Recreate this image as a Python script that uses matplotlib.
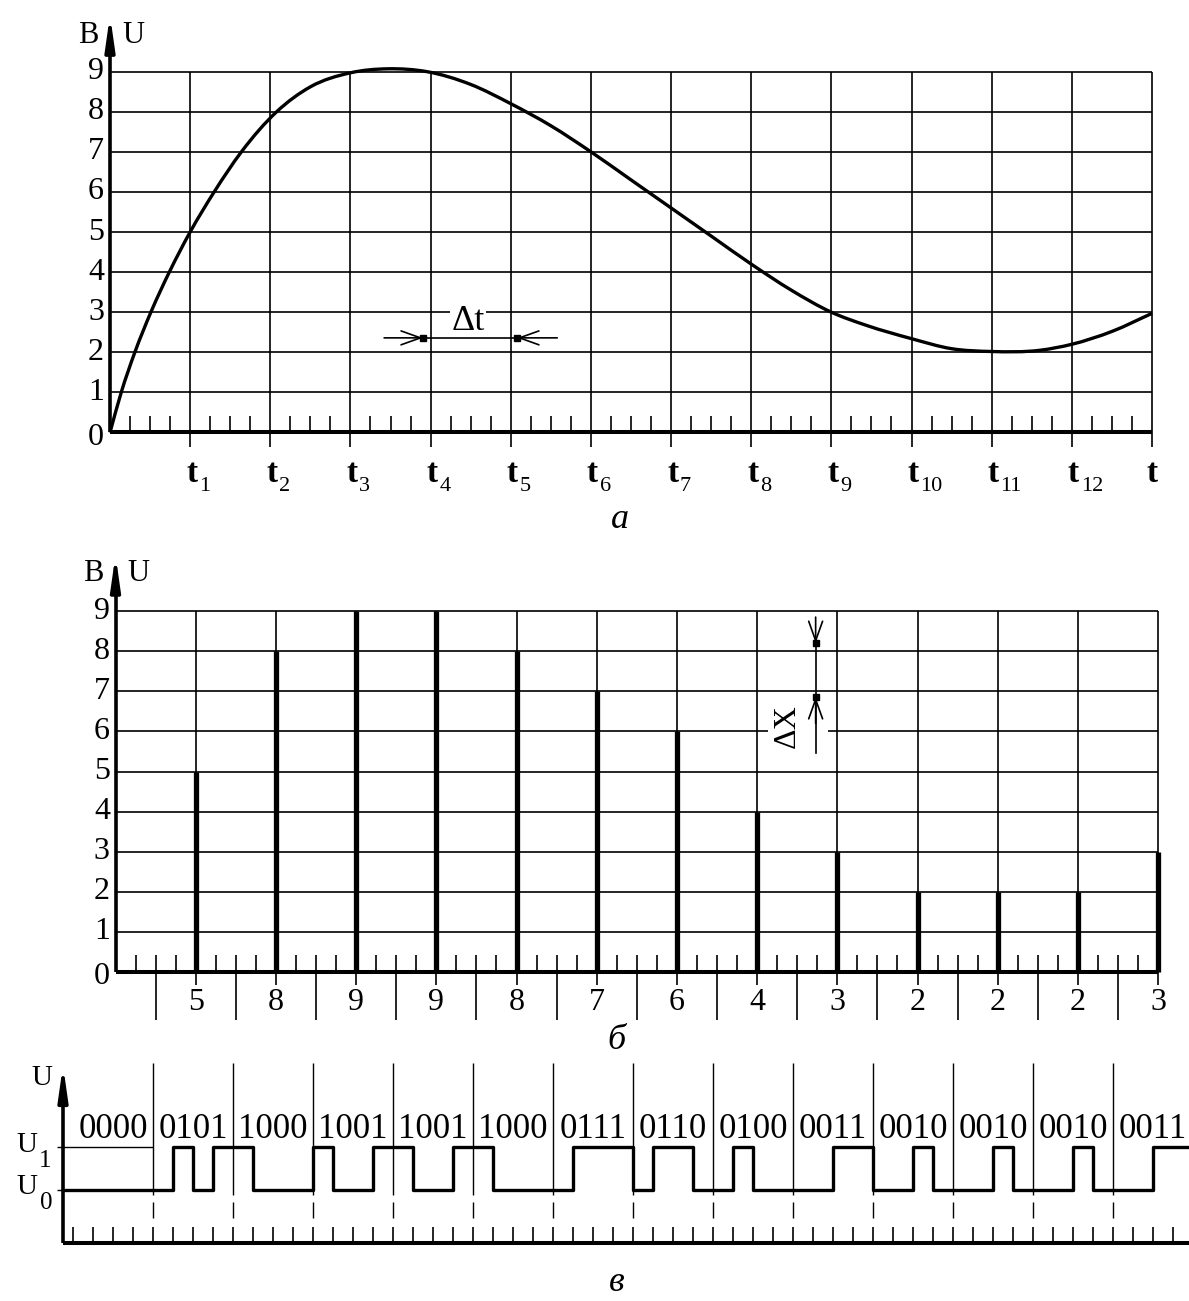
import matplotlib
matplotlib.use('Agg')
import matplotlib.pyplot as plt
from matplotlib.patches import Rectangle, PathPatch
from matplotlib.path import Path
import numpy as np

plt.rcParams['font.family'] = ['Liberation Serif', 'DejaVu Serif']

# ---------------- data ----------------
# panel a: continuous signal
curve_t = [0, 0.14, 0.31, 0.51, 0.74, 1.0, 1.30, 1.64, 2.08, 2.5, 3.0, 3.47,
           3.95, 4.5, 5.0, 5.5, 6.0, 6.5, 7.0, 7.5, 8.0, 8.5, 9.0, 9.44,
           10.0, 10.5, 11.0, 11.6, 12.0, 12.5, 13.0]
curve_v = [0, 1, 2, 3, 4, 5, 6, 7, 8, 8.62, 8.97, 9.07,
           9.0, 8.68, 8.2, 7.65, 7.0, 6.3, 5.6, 4.9, 4.2, 3.55, 3.0, 2.67,
           2.34, 2.09, 2.02, 2.05, 2.2, 2.52, 2.97]
t_names = ['1', '2', '3', '4', '5', '6', '7', '8', '9', '10', '11', '12']
y_levels = [0, 1, 2, 3, 4, 5, 6, 7, 8, 9]
# panel б: sampled (quantized) values
sample_values = [5, 8, 9, 9, 8, 7, 6, 4, 3, 2, 2, 2, 3]
# panel в: binary codes
codes = ['0000', '0101', '1000', '1001', '1001', '1000', '0111', '0110',
         '0100', '0011', '0010', '0010', '0010', '0011']

W, H = 1189, 1301
fig = plt.figure(figsize=(W / 100, H / 100), dpi=100)
fig.patch.set_facecolor('white')


def overlay(x0, sx, y0, sy):
    ax = fig.add_axes([0, 0, 1, 1])
    ax.set_xlim(-x0 / sx, (W - x0) / sx)
    ax.set_ylim((y0 - H) / sy, y0 / sy)
    ax.axis('off')
    return ax


def up_arrow(ax, x, y0, y1):
    ax.annotate('', xy=(x, y1), xytext=(x, y0),
                arrowprops=dict(arrowstyle='-|>,head_length=1.4,head_width=0.2',
                                color='k', lw=2.6, shrinkA=0, shrinkB=0,
                                mutation_scale=14))


def dim_arrow(ax, start, tip):
    ax.annotate('', xy=tip, xytext=start,
                arrowprops=dict(arrowstyle='->,head_length=0.7,head_width=0.25',
                                color='k', lw=1.2, shrinkA=0, shrinkB=0,
                                mutation_scale=20), zorder=4)


def smooth_path(xs, ys):
    # cubic Hermite (as Bezier segments) through the read points of y(x)
    x = np.asarray(xs, float)
    y = np.asarray(ys, float)
    h = np.diff(x)
    d = np.diff(y) / h
    m = np.empty_like(x)
    m[0], m[-1] = d[0], d[-1]
    m[1:-1] = (h[:-1] * d[1:] + h[1:] * d[:-1]) / (h[:-1] + h[1:])
    verts = [(x[0], y[0])]
    cds = [Path.MOVETO]
    for i in range(len(x) - 1):
        verts += [(x[i] + h[i] / 3, y[i] + m[i] * h[i] / 3),
                  (x[i + 1] - h[i] / 3, y[i + 1] - m[i + 1] * h[i] / 3),
                  (x[i + 1], y[i + 1])]
        cds += [Path.CURVE4] * 3
    return Path(verts, cds)


FS = 23
n = len(sample_values)
minor = [k + f for k in range(n) for f in (0.25, 0.5, 0.75)]

# ---------------- panel a ----------------
axA = overlay(110, 80.15, 432.5, 40.1)
axA.hlines(y_levels[1:], 0, n, colors='k', lw=1.2, zorder=2)
axA.vlines(range(1, n + 1), -0.36, 9, colors='k', lw=1.2, zorder=2)
axA.vlines(minor, 0, 0.42, colors='k', lw=1.2, zorder=2)
axA.plot([0, n], [0, 0], color='k', lw=2.9, solid_capstyle='butt', zorder=3)
axA.plot([0, 0], [0, 9.8], color='k', lw=2.6, solid_capstyle='butt', zorder=3)
up_arrow(axA, 0, 9.6, 10.41)
axA.add_patch(PathPatch(smooth_path(curve_t, curve_v), facecolor='none',
                        edgecolor='k', lw=2.4, zorder=3))
for v in y_levels:
    axA.text(-0.075, v - (0.12 if v == 0 else 0), str(v), ha='right', va='center', fontsize=FS)
for k, name in enumerate(t_names, start=1):
    axA.text(k + 0.02, -1.23, 't', ha='center', va='baseline', fontsize=24, fontweight='bold')
    axA.text(k + 0.11, -1.46, name, ha='left', va='baseline', fontsize=16)
axA.text(13.0, -1.23, 't', ha='center', va='baseline', fontsize=24, fontweight='bold')
axA.text(-0.27, 9.91, 'B', ha='center', va='center', fontsize=22)
axA.text(0.29, 9.91, 'U', ha='center', va='center', fontsize=22)
# Δt dimension
axA.plot([3.905, 5.078], [2.36, 2.36], color='k', lw=1.2, zorder=4)
dim_arrow(axA, (3.42, 2.36), (3.905, 2.36))
dim_arrow(axA, (5.58, 2.36), (5.078, 2.36))
axA.plot([3.905, 5.078], [2.36, 2.36], 's', color='k', ms=4, zorder=5)
axA.text(4.47, 2.78, 'Δt', ha='center', va='center', fontsize=26, zorder=3,
         bbox=dict(facecolor='white', edgecolor='none', pad=1))
axA.text(6.36, -2.18, 'а', ha='center', va='center', fontsize=26, style='italic')

# ---------------- panel б ----------------
axB = overlay(115.5, 80.2, 972, 40.1)
axB.hlines(y_levels[1:], 0, n, colors='k', lw=1.2, zorder=2)
axB.vlines(range(1, n + 1), -0.33, 9, colors='k', lw=1.2, zorder=2)
axB.vlines(minor, 0, 0.42, colors='k', lw=1.2, zorder=2)
axB.vlines(np.arange(n) + 0.5, -1.2, 0, colors='k', lw=1.2, zorder=2)
axB.vlines(range(1, n + 1), 0, sample_values, colors='k', lw=3.8, zorder=3)
axB.plot([0, n], [0, 0], color='k', lw=2.9, solid_capstyle='butt', zorder=3)
axB.plot([0, 0], [0, 9.8], color='k', lw=2.6, solid_capstyle='butt', zorder=3)
up_arrow(axB, 0, 9.6, 10.4)
for v in y_levels:
    axB.text(-0.07, v - (0.12 if v == 0 else 0), str(v), ha='right', va='center', fontsize=FS)
for k, val in enumerate(sample_values, start=1):
    axB.text(k, -0.75, str(val), ha='center', va='center', fontsize=FS)
axB.text(-0.28, 9.95, 'B', ha='center', va='center', fontsize=22)
axB.text(0.28, 9.95, 'U', ha='center', va='center', fontsize=22)
# ΔX dimension
axB.add_patch(Rectangle((8.136, 5.85), 0.75, 0.3, facecolor='white', edgecolor='none', zorder=2.5))
axB.plot([8.73, 8.73], [8.2, 5.46], color='k', lw=1.2, zorder=4)
dim_arrow(axB, (8.73, 8.85), (8.73, 8.2))
dim_arrow(axB, (8.73, 6.2), (8.73, 6.86))
axB.plot([8.73, 8.73], [8.2, 6.86], 's', color='k', ms=4, zorder=5)
axB.text(8.37, 6.13, 'ΔX', rotation=90, ha='center', va='center', fontsize=23, zorder=4)
axB.text(6.25, -1.7, 'б', ha='center', va='center', fontsize=26, style='italic')

# ---------------- panel в ----------------
axC = overlay(73, 20, 1190, 43)
bits = [int(c) for code in codes for c in code]
nb = len(bits)
xs = [-0.5] + list(range(nb)) + [nb]
ys = [0] + bits + [bits[-1]]
axC.step(xs, ys, where='post', color='k', lw=2.4, zorder=3)
bounds = [4 * k for k in range(1, len(codes))]
axC.vlines(bounds, -0.12, 2.95, colors='k', lw=1.0, zorder=2)
axC.vlines(bounds, -0.65, -0.28, colors='k', lw=1.0, zorder=2)
axC.vlines(range(0, nb + 1), -1.23, -0.86, colors='k', lw=1.2, zorder=2)
axC.plot([-0.5, nb + 1], [-1.23, -1.23], color='k', lw=2.9, solid_capstyle='butt', zorder=3)
axC.plot([-0.5, -0.5], [-1.23, 2.5], color='k', lw=2.6, solid_capstyle='butt', zorder=3)
up_arrow(axC, -0.5, 2.3, 2.9)
axC.hlines(1, -0.8, 4, colors='k', lw=1.0, zorder=2)
axC.hlines(0, -0.8, -0.5, colors='k', lw=1.0, zorder=2)
for k, code in enumerate(codes):
    axC.text(4 * k + 2, 1.4, code, ha='center', va='center', fontsize=25)
axC.text(-1.55, 2.6, 'U', ha='center', va='center', fontsize=21)
axC.text(-2.3, 1.05, 'U', ha='center', va='center', fontsize=21)
axC.text(-1.4, 0.67, '1', ha='center', va='center', fontsize=18)
axC.text(-2.3, 0.07, 'U', ha='center', va='center', fontsize=21)
axC.text(-1.35, -0.3, '0', ha='center', va='center', fontsize=18)
axC.text(27.2, -2.15, 'в', ha='center', va='center', fontsize=26, style='italic')

fig.savefig('out.png', dpi=100, facecolor='white')
